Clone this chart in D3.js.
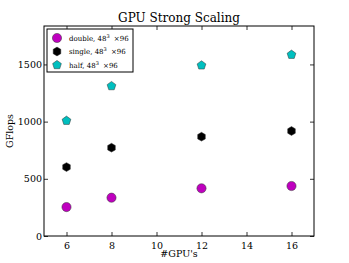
<!DOCTYPE html>
<html>
<head>
<meta charset="utf-8">
<script src="https://cdn.jsdelivr.net/npm/d3@7"></script>
<style>
body { margin: 0; background: #fff; }
text { font-family: "DejaVu Serif", serif; fill: #000; }
</style>
</head>
<body>
<svg id="chart"></svg>
<script>
var width = 349, height = 263;

// data
var gpus = [6, 8, 12, 16];
var doubleVals = [253, 335, 417, 437];
var singleVals = [603, 772, 868, 918];
var halfVals = [1008, 1311, 1492, 1585];
var xTicks = [6, 8, 10, 12, 14, 16];
var yTicks = [0, 500, 1000, 1500];
var seriesNames = ["double", "single", "half"];

var plotLeft = 44, plotRight = 314, plotTop = 26, plotBottom = 236;

var x = d3.scaleLinear().domain([5, 17]).range([plotLeft, plotRight]);
var y = d3.scaleLinear().domain([0, 1836]).range([plotBottom, plotTop]);

var svg = d3.select("#chart").attr("width", width).attr("height", height);

// axes (ticks pointing inward, on all four sides like matplotlib classic)
svg.append("g").attr("transform", "translate(0," + plotBottom + ")")
	.call(d3.axisBottom(x).tickValues(xTicks).tickSize(-4).tickPadding(6));
svg.append("g").attr("transform", "translate(0," + plotTop + ")")
	.call(d3.axisTop(x).tickValues(xTicks).tickSize(-4).tickFormat(""));
svg.append("g").attr("transform", "translate(" + plotLeft + ",0)")
	.call(d3.axisLeft(y).tickValues(yTicks).tickSize(-4).tickPadding(2).tickFormat(d3.format("d")));
svg.append("g").attr("transform", "translate(" + plotRight + ",0)")
	.call(d3.axisRight(y).tickValues(yTicks).tickSize(-4).tickFormat(""));

svg.selectAll(".domain").remove();
svg.selectAll(".tick line").attr("stroke", "#000").attr("stroke-width", 0.8);
svg.selectAll(".tick text").style("font-family", "DejaVu Serif").style("font-size", "9.5px");

svg.append("rect")
	.attr("x", plotLeft).attr("y", plotTop)
	.attr("width", plotRight - plotLeft).attr("height", plotBottom - plotTop)
	.attr("fill", "none").attr("stroke", "#000").attr("stroke-width", 1);

svg.append("text").attr("x", (plotLeft + plotRight) / 2).attr("y", 22)
	.attr("text-anchor", "middle").style("font-size", "12px").text("GPU Strong Scaling");
svg.append("text").attr("x", (plotLeft + plotRight) / 2).attr("y", 257)
	.attr("text-anchor", "middle").style("font-size", "9.5px").text("#GPU's");
svg.append("text").attr("transform", "translate(13," + ((plotTop + plotBottom) / 2) + ") rotate(-90)")
	.attr("text-anchor", "middle").style("font-size", "9.5px").text("GFlops");

// marker shapes
function polygon(n, r, rot) {
	var pts = [];
	for (var k = 0; k < n; k++) {
		var a = rot + k * 2 * Math.PI / n;
		pts.push([r * Math.cos(a), r * Math.sin(a)]);
	}
	return "M" + pts.join("L") + "Z";
}
var markers = {
	double: { fill: "#bf00bf", path: function () { return d3.symbol().type(d3.symbolCircle).size(Math.PI * 4.6 * 4.6)(); } },
	single: { fill: "#000000", path: function () { return polygon(6, 4.4, -Math.PI / 2); } },
	half: { fill: "#00bfbf", path: function () { return polygon(5, 4.6, -Math.PI / 2); } }
};

var allVals = { double: doubleVals, single: singleVals, half: halfVals };

seriesNames.forEach(function (s) {
	svg.append("g").selectAll("path")
		.data(allVals[s])
		.enter().append("path")
		.attr("transform", function (d, i) { return "translate(" + x(gpus[i]) + "," + y(d) + ")"; })
		.attr("d", markers[s].path())
		.attr("fill", markers[s].fill)
		.attr("stroke", "#333")
		.attr("stroke-width", 0.5);
});

// legend
var legend = svg.append("g");
legend.append("rect").attr("x", 47).attr("y", 29).attr("width", 86).attr("height", 43)
	.attr("fill", "#fff").attr("stroke", "#000").attr("stroke-width", 1);
seriesNames.forEach(function (s, i) {
	var ly = 38 + i * 13.5;
	legend.append("path")
		.attr("transform", "translate(57," + ly + ")")
		.attr("d", markers[s].path())
		.attr("fill", markers[s].fill)
		.attr("stroke", "#333").attr("stroke-width", 0.5);
	var t = legend.append("text").attr("x", 69).attr("y", ly + 2.8).style("font-size", "7px");
	t.append("tspan").text(s + ", 48");
	t.append("tspan").attr("dy", -3).style("font-size", "5px").text("3");
	t.append("tspan").attr("dy", 3).attr("dx", 2).text(" \u00d796");
});
</script>
</body>
</html>
